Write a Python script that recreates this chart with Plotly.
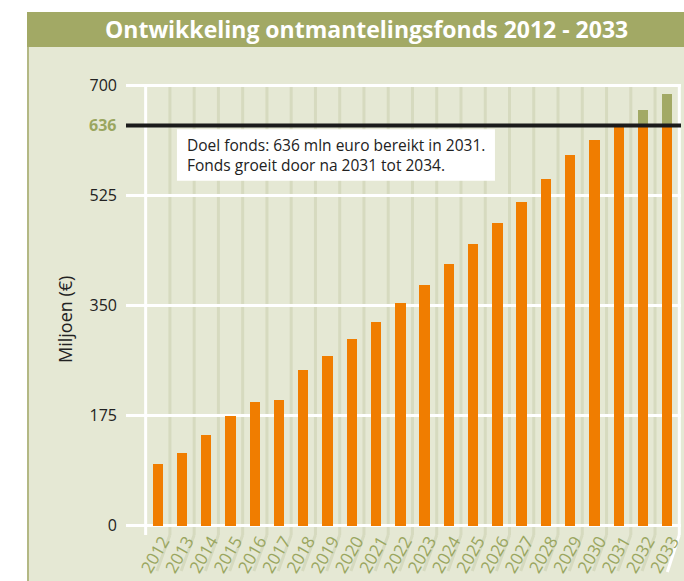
import plotly.graph_objects as go

years = [str(y) for y in range(2012, 2034)]
fonds = [98, 115, 144, 174, 196, 200, 247, 270, 297, 324, 354, 383, 416, 448,
         481, 514, 551, 589, 613, 635, 635, 635]
groei = [0] * 19 + [2, 25, 51]
yticks = [0, 175, 350, 525, 700]
doel = 636

ORANGE = "#f07d00"
OLIVE = "#a2a965"
BEIGE = "#e5e8d4"
STRIPE = "#d6dabf"
FONT = "Open Sans"

W, H = 684, 581
ML, MR, MT, MB = 126, 3, 82, 46
PW, PH = W - ML - MR, H - MT - MB


def px(x):
    return (x - ML) / PW


def py(y):
    return (H - MB - y) / PH


x = list(range(len(years)))
fig = go.Figure()
fig.add_bar(x=x, y=fonds, marker_color=ORANGE, width=0.425, marker_line_width=0)
fig.add_bar(x=x, y=groei, marker_color=OLIVE, width=0.425, marker_line_width=0)

shapes = []
# panel and title bar
shapes.append(dict(type="rect", xref="paper", yref="paper", x0=px(27), x1=px(W + 2),
                   y0=py(H + 2), y1=py(47), fillcolor=BEIGE, line_width=0, layer="below"))
shapes.append(dict(type="rect", xref="paper", yref="paper", x0=px(27), x1=px(W + 2),
                   y0=py(47), y1=py(12), fillcolor=OLIVE, line_width=0, layer="below"))
shapes.append(dict(type="line", xref="paper", yref="paper", x0=px(28), x1=px(28),
                   y0=py(H + 2), y1=py(47), line=dict(color="#b3b884", width=2), layer="below"))
# vertical stripes
for k in range(len(years) - 1):
    shapes.append(dict(type="line", xref="x", yref="y", x0=k + 0.5, x1=k + 0.5, y0=-15, y1=700,
                       line=dict(color=STRIPE, width=3), layer="below"))
    xp = ML + (k + 0.5 + 1.31) * PW / 22.88
    shapes.append(dict(type="line", xref="paper", yref="paper", x0=px(xp), x1=px(xp - 13),
                       y0=py(535), y1=py(571), line=dict(color=STRIPE, width=3), layer="below"))
# white frame lines
for xv in (-0.5, 21.5):
    shapes.append(dict(type="line", xref="x", yref="y", x0=xv, x1=xv, y0=-15, y1=700,
                       line=dict(color="white", width=3), layer="below"))
xr = ML + (21.5 + 1.31) * PW / 22.88
shapes.append(dict(type="line", xref="paper", yref="paper", x0=px(xr), x1=px(xr - 12),
                   y0=py(535), y1=py(572), line=dict(color="white", width=3), layer="below"))
# target line
shapes.append(dict(type="line", xref="paper", yref="y", x0=0, x1=1, y0=doel, y1=doel,
                   line=dict(color="#1b1b1b", width=4), layer="above"))
# annotation box
shapes.append(dict(type="rect", xref="x", yref="y", x0=0.79, x1=13.9, y0=548, y1=630,
                   fillcolor="white", line_width=0, layer="above"))

annotations = [
    dict(text="<b>Ontwikkeling ontmantelingsfonds 2012 - 2033</b>", xref="paper", yref="paper",
         x=px(366), y=py(29.5), xanchor="center", yanchor="middle", showarrow=False,
         font=dict(family=FONT, size=23, color="white")),
    dict(text="Doel fonds: 636 mln euro bereikt in 2031.<br>Fonds groeit door na 2031 tot 2034.",
         xref="x", yref="y", x=1.12, y=589, xanchor="left", yanchor="middle", align="left",
         showarrow=False, font=dict(family=FONT, size=15.5, color="#222222")),
    dict(text="<b>636</b>", xref="paper", yref="y", x=0, y=doel, xanchor="right", xshift=-8,
         yanchor="middle", showarrow=False, font=dict(family=FONT, size=16, color="#9aa65f")),
    dict(text="Miljoen (€)", xref="paper", yref="paper", x=px(65), y=py(320), textangle=-90,
         xanchor="center", yanchor="middle", showarrow=False,
         font=dict(family=FONT, size=18, color="#222222")),
]

fig.update_layout(
    width=W, height=H, margin=dict(l=ML, r=MR, t=MT, b=MB),
    paper_bgcolor="white", plot_bgcolor="rgba(0,0,0,0)",
    barmode="stack", showlegend=False, bargap=0,
    shapes=shapes, annotations=annotations,
    xaxis=dict(range=[-1.31, 21.57], tickvals=x, ticktext=years, tickangle=-60,
               showgrid=False, zeroline=False, showline=False, ticks="", automargin=False,
               ticklabelstandoff=-8, ticklabelshift=5,
               tickfont=dict(family=FONT, size=17, color="#9aa65f")),
    yaxis=dict(range=[-15, 705], tickvals=yticks, ticktext=[str(v) for v in yticks],
               showgrid=True, gridcolor="white", gridwidth=3, zeroline=False, showline=False,
               ticks="", ticklabelstandoff=8, automargin=False,
               tickfont=dict(family=FONT, size=16, color="#222222")),
)

fig.write_html("out.html", config={"displayModeBar": False},
               post_script="document.body.style.margin='0';document.body.style.overflow='hidden';")
